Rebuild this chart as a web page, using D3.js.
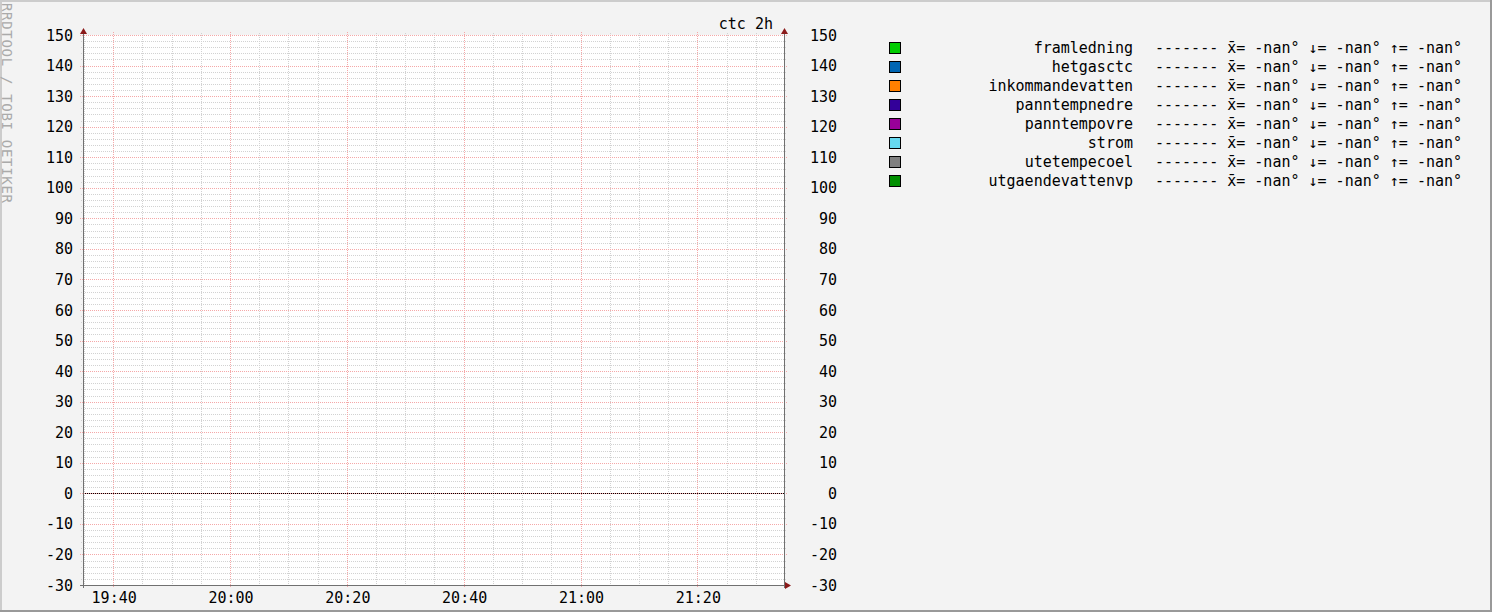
<!DOCTYPE html>
<html>
  <head>
    <meta charset="utf-8">
    <title>ctc 2h</title>
    <style>
      body { margin: 0; background: #f3f3f3; }
      svg text { font-family: "DejaVu Sans Mono", monospace; font-size: 15px; fill: #000; }
      svg text.watermark { fill: #aaa; font-size: 14px; }
    </style>
  </head>
  <body>
    <div id="chart"></div>
    <script src="https://d3js.org/d3.v7.min.js"></script>
    <script>
      (function(d3) {
        'use strict';
        // data
        var title = 'ctc 2h';
        var timeStart = new Date(2024, 0, 1, 19, 34, 50);
        var timeEnd = new Date(2024, 0, 1, 21, 34, 50);
        var yTicks = [-30, -20, -10, 0, 10, 20, 30, 40, 50, 60, 70, 80, 90, 100, 110, 120, 130, 140, 150];
        var xTickLabels = ['19:40', '20:00', '20:20', '20:40', '21:00', '21:20'];
        var seriesNames = ['framledning', 'hetgasctc', 'inkommandevatten', 'panntempnedre',
                           'panntempovre', 'strom', 'utetempecoel', 'utgaendevattenvp'];
        var seriesColors = ['#00cc00', '#0066b3', '#ff8000', '#330099',
                            '#990099', '#66d9f0', '#808080', '#008f00'];
        // no samples in the window -> all values unknown
        var seriesValues = [[NaN, NaN], [NaN, NaN], [NaN, NaN], [NaN, NaN],
                            [NaN, NaN], [NaN, NaN], [NaN, NaN], [NaN, NaN]];
        var seriesMean = ['-nan', '-nan', '-nan', '-nan', '-nan', '-nan', '-nan', '-nan'];
        var seriesMin  = ['-nan', '-nan', '-nan', '-nan', '-nan', '-nan', '-nan', '-nan'];
        var seriesMax  = ['-nan', '-nan', '-nan', '-nan', '-nan', '-nan', '-nan', '-nan'];

        var width = 1492;
        var height = 612;
        var left = 83, right = 784, top = 35, bottom = 585;

        var parseHM = d3.timeParse('%H:%M');
        var xTicks = xTickLabels.map(function(s) {
          var t = parseHM(s);
          return new Date(2024, 0, 1, t.getHours(), t.getMinutes());
        });

        var x = d3.scaleTime().domain([timeStart, timeEnd]).range([left, right]);
        var y = d3.scaleLinear().domain([-30, 150]).range([bottom, top]);

        var svg = d3.select('#chart')
          .append('svg')
          .attr('width', width)
          .attr('height', height);

        // frame
        svg.append('rect').attr('width', width).attr('height', height).attr('fill', '#f3f3f3');
        svg.append('rect').attr('x', 0).attr('y', 0).attr('width', width).attr('height', 2).attr('fill', '#cccccc');
        svg.append('rect').attr('x', 0).attr('y', 0).attr('width', 2).attr('height', height).attr('fill', '#cccccc');
        svg.append('rect').attr('x', width - 2).attr('y', 0).attr('width', 2).attr('height', height).attr('fill', '#999999');
        svg.append('rect').attr('x', 0).attr('y', height - 2).attr('width', width).attr('height', 2).attr('fill', '#999999');

        // watermark
        svg.append('text')
          .attr('class', 'watermark')
          .attr('transform', 'translate(2,3) rotate(90)')
          .attr('textLength', 200)
          .text('RRDTOOL / TOBI OETIKER');

        // canvas
        svg.append('rect')
          .attr('x', left).attr('y', top)
          .attr('width', right - left).attr('height', bottom - top)
          .attr('fill', '#ffffff');

        var grid = svg.append('g');
        var minorColor = '#d2d2d2';
        var majorColor = '#f5a8a8';

        // minor horizontal grid every 2
        var yMinor = d3.range(-30, 151, 2).filter(function(v) { return v % 10 !== 0; });
        grid.selectAll('.ymin')
          .data(yMinor)
          .enter()
          .append('line')
          .attr('x1', left - 2).attr('x2', right + 2)
          .attr('y1', function(d) { return Math.round(y(d)) + 0.5; })
          .attr('y2', function(d) { return Math.round(y(d)) + 0.5; })
          .attr('stroke', minorColor)
          .attr('stroke-dasharray', '1,1');

        // minor vertical grid every 5 min
        var xMinor = d3.timeMinute.every(5).range(timeStart, timeEnd)
          .filter(function(d) { return d.getMinutes() % 20 !== 0; });
        grid.selectAll('.xmin')
          .data(xMinor)
          .enter()
          .append('line')
          .attr('y1', top - 2).attr('y2', bottom + 2)
          .attr('x1', function(d) { return Math.round(x(d)) + 0.5; })
          .attr('x2', function(d) { return Math.round(x(d)) + 0.5; })
          .attr('stroke', minorColor)
          .attr('stroke-dasharray', '1,1');

        // major grid
        grid.selectAll('.ymaj')
          .data(yTicks)
          .enter()
          .append('line')
          .attr('x1', left - 3).attr('x2', right + 3)
          .attr('y1', function(d) { return Math.round(y(d)) + 0.5; })
          .attr('y2', function(d) { return Math.round(y(d)) + 0.5; })
          .attr('stroke', majorColor)
          .attr('stroke-dasharray', '1,1');

        grid.selectAll('.xmaj')
          .data(xTicks)
          .enter()
          .append('line')
          .attr('y1', top - 3).attr('y2', bottom + 3)
          .attr('x1', function(d) { return Math.round(x(d)) + 0.5; })
          .attr('x2', function(d) { return Math.round(x(d)) + 0.5; })
          .attr('stroke', majorColor)
          .attr('stroke-dasharray', '1,1');

        // series (all unknown)
        var line = d3.line()
          .defined(function(d) { return !isNaN(d); })
          .x(function(d, i) { return x(i === 0 ? timeStart : timeEnd); })
          .y(function(d) { return y(d); });
        svg.selectAll('.series')
          .data(seriesValues)
          .enter()
          .append('path')
          .attr('fill', 'none')
          .attr('stroke', function(d, i) { return seriesColors[i]; })
          .attr('d', line);

        // zero rule
        svg.append('line')
          .attr('x1', left).attr('x2', right)
          .attr('y1', Math.round(y(0)) + 0.5).attr('y2', Math.round(y(0)) + 0.5)
          .attr('stroke', '#000')
          .attr('stroke-dasharray', '1,1');

        // axes
        var axisColor = '#707070';
        var arrowColor = '#8b1a1a';
        svg.append('line')
          .attr('x1', left + 0.5).attr('x2', left + 0.5)
          .attr('y1', top - 2).attr('y2', bottom + 3)
          .attr('stroke', axisColor);
        svg.append('line')
          .attr('x1', right + 0.5).attr('x2', right + 0.5)
          .attr('y1', top - 2).attr('y2', bottom + 3)
          .attr('stroke', axisColor);
        svg.append('line')
          .attr('x1', left - 3).attr('x2', right + 3)
          .attr('y1', bottom + 0.5).attr('y2', bottom + 0.5)
          .attr('stroke', axisColor);

        [left, right].forEach(function(ax) {
          svg.append('path')
            .attr('d', 'M' + (ax - 3) + ',' + (top - 1) + 'L' + (ax + 4) + ',' + (top - 1) +
                       'L' + (ax + 0.5) + ',' + (top - 7) + 'Z')
            .attr('fill', arrowColor);
        });
        svg.append('path')
          .attr('d', 'M' + (right + 1) + ',' + (bottom - 3) + 'L' + (right + 1) + ',' + (bottom + 4) +
                     'L' + (right + 7) + ',' + (bottom + 0.5) + 'Z')
          .attr('fill', arrowColor);

        // y labels
        svg.selectAll('.ylabL')
          .data(yTicks)
          .enter()
          .append('text')
          .attr('x', 73)
          .attr('y', function(d) { return y(d) + 5.5; })
          .attr('text-anchor', 'end')
          .text(function(d) { return d; });
        svg.selectAll('.ylabR')
          .data(yTicks)
          .enter()
          .append('text')
          .attr('x', 837)
          .attr('y', function(d) { return y(d) + 5.5; })
          .attr('text-anchor', 'end')
          .text(function(d) { return d; });

        // x labels
        svg.selectAll('.xlab')
          .data(xTicks)
          .enter()
          .append('text')
          .attr('x', function(d) { return x(d) + 1; })
          .attr('y', 603)
          .attr('text-anchor', 'middle')
          .text(function(d, i) { return xTickLabels[i]; });

        // title
        svg.append('text')
          .attr('x', 773)
          .attr('y', 29)
          .attr('text-anchor', 'end')
          .text(title);

        // legend
        var legend = svg.selectAll('.legend')
          .data(seriesNames)
          .enter()
          .append('g')
          .attr('class', 'legend')
          .attr('transform', function(d, i) { return 'translate(0,' + (i * 19) + ')'; });
        legend.append('rect')
          .attr('x', 889.5).attr('y', 42.5)
          .attr('width', 11).attr('height', 11)
          .attr('fill', function(d, i) { return seriesColors[i]; })
          .attr('stroke', '#000');
        legend.append('text')
          .attr('x', 1133)
          .attr('y', 53)
          .attr('text-anchor', 'end')
          .text(function(d) { return d; });
        legend.append('text')
          .attr('x', 1155)
          .attr('y', 53)
          .attr('xml:space', 'preserve')
          .text(function(d, i) {
            return '------- x\u0304= ' + seriesMean[i] + '\u00b0 \u2193= ' + seriesMin[i] +
                   '\u00b0 \u2191= ' + seriesMax[i] + '\u00b0';
          });
      })(window.d3);
    </script>
  </body>
</html>
